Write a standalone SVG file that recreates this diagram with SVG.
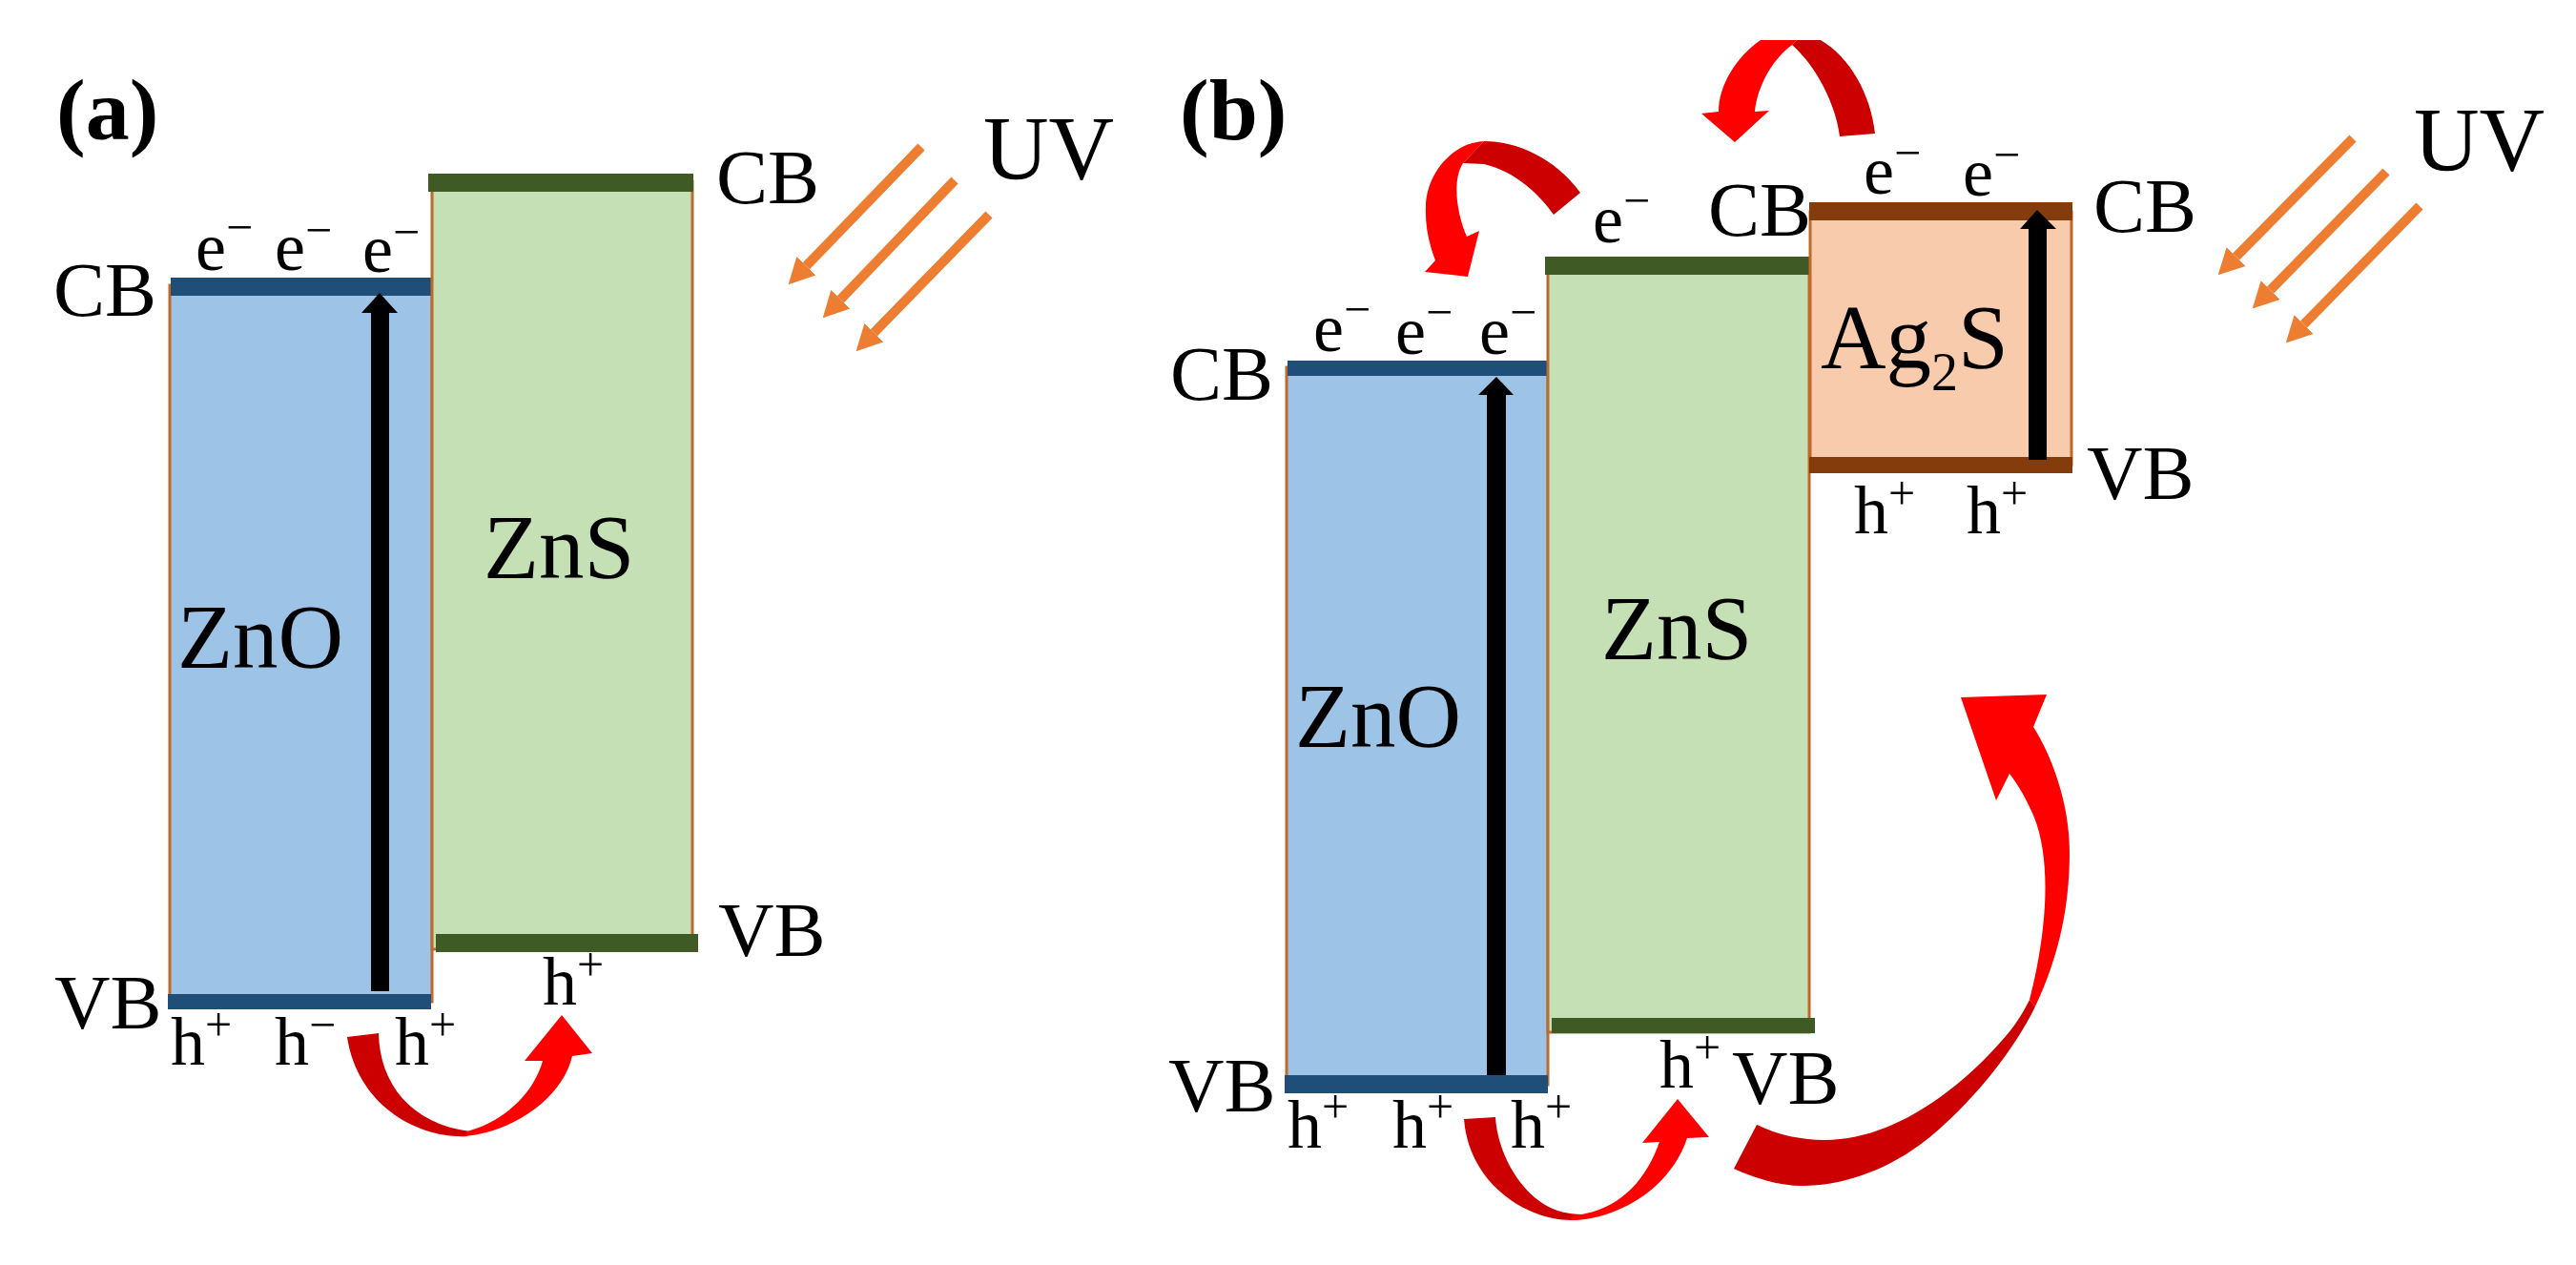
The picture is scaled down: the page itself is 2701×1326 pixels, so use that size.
<svg xmlns="http://www.w3.org/2000/svg" width="2701" height="1326" viewBox="0 0 2701 1326">
<defs>
<style>
text{font-family:"Liberation Serif","Times New Roman",serif;fill:#000}
.lab{font-size:81px}
.uv{font-size:95px}
.mat{font-size:95px}
.tag{font-size:92px;font-weight:bold}
.car{font-size:72px}
.sup{font-size:50px}
.sub{font-size:56px}
.box{stroke:#BE6A2C;stroke-width:3}
.zno{fill:#9DC3E6}
.zns{fill:#C5E0B4}
.ags{fill:#F8CBAD}
.bz{fill:#1F4E79}
.bg{fill:#3F5A24}
.ba{fill:#843C0C}
.uvl{stroke:#ED7D31;stroke-width:10;fill:none;marker-end:url(#uvhead)}
.dk{fill:#CC0000}
.rd{fill:#FF0000}
.blk{fill:#000}
</style>
<marker id="uvhead" markerUnits="userSpaceOnUse" markerWidth="30" markerHeight="30" refX="0" refY="15" orient="auto" viewBox="0 0 30 30">
<path d="M0,1 L27,15 L0,29 Z" fill="#ED7D31"/>
</marker>
</defs>
<rect width="2701" height="1326" fill="#fff"/>

<g id="panel-a-label"><text class="tag" x="59" y="146">(a)</text></g>

<g id="zno-a">
<rect class="zno box" x="178" y="299" width="275" height="751"/>
<rect class="bz" x="179" y="291" width="273" height="19"/>
<rect class="bz" x="176" y="1042" width="276" height="16"/>
<text class="mat" x="186" y="700">ZnO</text>
<text class="lab" x="56" y="331">CB</text>
<text class="lab" x="57" y="1078">VB</text>
<text class="car" x="205" y="283">e<tspan class="sup" dy="-28">−</tspan></text>
<text class="car" x="288" y="283">e<tspan class="sup" dy="-25">−</tspan></text>
<text class="car" x="380" y="285">e<tspan class="sup" dy="-25">−</tspan></text>
<text class="car" x="179" y="1116">h<tspan class="sup" dy="-25">+</tspan></text>
<text class="car" x="288" y="1116">h<tspan class="sup" dy="-25">−</tspan></text>
<text class="car" x="414" y="1116">h<tspan class="sup" dy="-25">+</tspan></text>
</g>

<g id="zns-a">
<rect class="zns box" x="453" y="190" width="273" height="805"/>
<rect class="bg" x="449" y="182" width="278" height="19"/>
<rect class="bg" x="457" y="979" width="275" height="19"/>
<text class="mat" x="507" y="606">ZnS</text>
<text class="lab" x="751" y="213">CB</text>
<text class="lab" x="753" y="1002">VB</text>
<text class="car" x="569" y="1053">h<tspan class="sup" dy="-25">+</tspan></text>
</g>

<g id="uv-a"><text class="uv" x="1031" y="188">UV</text></g>

<g id="panel-b-label"><text class="tag" x="1237" y="146">(b)</text></g>

<g id="zno-b">
<rect class="zno box" x="1349" y="385" width="274" height="752"/>
<rect class="bz" x="1350" y="378" width="273" height="16"/>
<rect class="bz" x="1347" y="1127" width="276" height="19"/>
<text class="mat" x="1358" y="783">ZnO</text>
<text class="lab" x="1227" y="419">CB</text>
<text class="lab" x="1225" y="1165">VB</text>
<text class="car" x="1377" y="368">e<tspan class="sup" dy="-27">−</tspan></text>
<text class="car" x="1463" y="371">e<tspan class="sup" dy="-27">−</tspan></text>
<text class="car" x="1551" y="371">e<tspan class="sup" dy="-27">−</tspan></text>
<text class="car" x="1350" y="1203">h<tspan class="sup" dy="-26">+</tspan></text>
<text class="car" x="1460" y="1203">h<tspan class="sup" dy="-26">+</tspan></text>
<text class="car" x="1584" y="1203">h<tspan class="sup" dy="-26">+</tspan></text>
</g>

<g id="zns-b">
<rect class="zns box" x="1623" y="278" width="274" height="804"/>
<rect class="bg" x="1620" y="269" width="278" height="19"/>
<rect class="bg" x="1627" y="1067" width="276" height="16"/>
<text class="mat" x="1679" y="691">ZnS</text>
<text class="lab" x="1791" y="247">CB</text>
<text class="lab" x="1816" y="1157">VB</text>
<text class="car" x="1670" y="254">e<tspan class="sup" dy="-27">−</tspan></text>
<text class="car" x="1740" y="1140">h<tspan class="sup" dy="-25">+</tspan></text>
</g>

<g id="ag2s-b">
<rect class="ags box" x="1898" y="222" width="274" height="265"/>
<rect class="ba" x="1897" y="212" width="276" height="19"/>
<rect class="ba" x="1897" y="479" width="276" height="17"/>
<text class="mat" x="1909" y="386">Ag<tspan class="sub" dy="23">2</tspan><tspan dy="-23">S</tspan></text>
<text class="lab" x="2195" y="243">CB</text>
<text class="lab" x="2188" y="523">VB</text>
<text class="car" x="1954" y="203">e<tspan class="sup" dy="-26">−</tspan></text>
<text class="car" x="2058" y="205">e<tspan class="sup" dy="-26">−</tspan></text>
<text class="car" x="1944" y="559">h<tspan class="sup" dy="-25">+</tspan></text>
<text class="car" x="2062" y="559">h<tspan class="sup" dy="-25">+</tspan></text>
</g>

<g id="uv-b"><text class="uv" x="2531" y="179">UV</text></g>

<g id="connectors">
<path class="blk" d="M389,1039 V328 H379 L398,307 L417,328 H408 V1039 Z"/>
<path class="blk" d="M1559,1127 V414 H1550 L1569,395 L1587,414 H1579 V1127 Z"/>
<path class="blk" d="M2127,482 V240 H2118 L2136,220 L2156,240 H2146 V482 Z"/>

<path class="uvl" d="M966,154 L845.4,278.8"/>
<path class="uvl" d="M1001,189 L881.4,313.8"/>
<path class="uvl" d="M1037,225 L916.4,348.8"/>
<path class="uvl" d="M2467,145 L2344.6,269.1"/>
<path class="uvl" d="M2502,180 L2380.6,304.1"/>
<path class="uvl" d="M2537,216 L2415.6,340.1"/>

<path class="dk" d="M364,1087 L397,1083 C398,1135 430,1178 493,1186 L490,1191 C440,1194 375,1160 364,1087 Z"/>
<path class="rd" d="M488,1191 C540,1186 590,1150 600,1107 L621,1104 L589,1064 L550,1112 L569,1112 C560,1145 530,1175 490,1186 Z"/>

<path class="dk" d="M1535,1173 L1568,1171 C1570,1205 1590,1245 1620,1263 C1632,1270 1645,1273 1660,1273 L1650,1279 C1600,1280 1540,1240 1535,1173 Z"/>
<path class="rd" d="M1645,1279 C1690,1280 1750,1250 1769,1193 L1792,1192 L1759,1152 L1722,1198 L1740,1197 C1725,1240 1695,1270 1650,1274 Z"/>

<path class="dk" d="M1842,1179 C1865,1190 1890,1195 1913,1195 C1990,1195 2060,1135 2097,1093 C2112,1077 2121,1062 2128,1048 L2134,1055 C2110,1105 2060,1165 2013,1200 C1975,1228 1930,1243 1890,1243 C1865,1243 1840,1235 1818,1225 Z"/>
<path class="rd" d="M2128,1048 C2148,970 2150,900 2133,857 C2126,840 2116,822 2107,811 L2093,839 L2056,731 L2146,728 L2132,762 C2150,790 2170,840 2170,893 C2170,960 2155,1010 2134,1055 Z"/>

<path class="dk" d="M1884,42 L1909,42 C1940,60 1962,100 1966,140 L1929,143 C1925,110 1905,70 1879,47 Z"/>
<path class="rd" d="M1884,42 L1846,42 C1820,60 1802,90 1802,117 L1784,119 L1819,149 L1855,116 L1840,117 C1842,95 1855,65 1879,47 Z"/>

<path class="dk" d="M1657,202 L1629,225 C1615,205 1590,180 1556,172 L1534,171 L1556,148 C1590,148 1630,165 1657,202 Z"/>
<path class="rd" d="M1556,148 C1520,150 1495,185 1495,217 C1494,240 1500,260 1505,273 L1494,285 L1539,290 L1551,242 L1538,248 C1528,225 1522,190 1534,171 Z"/>
</g>
</svg>
